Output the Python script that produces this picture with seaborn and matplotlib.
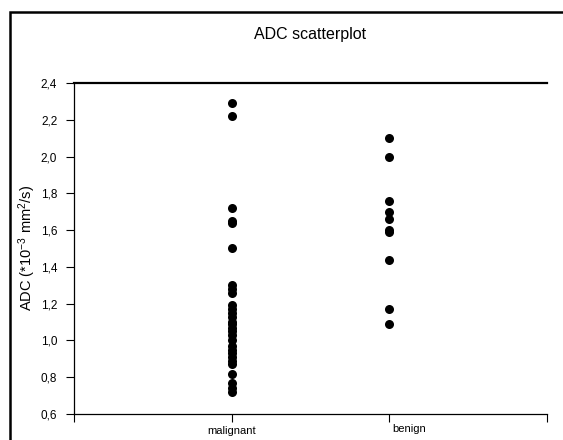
import matplotlib
matplotlib.use("Agg")
import matplotlib.pyplot as plt
import matplotlib.transforms as mtransforms
from matplotlib.patches import Rectangle
import pandas as pd
import seaborn as sns

# values (ADC, *10^-3 mm^2/s)
malignant = [2.29, 2.22, 1.72, 1.65, 1.64, 1.50,
             1.30, 1.28, 1.26, 1.19, 1.17, 1.15, 1.13, 1.10, 1.09, 1.07,
             1.05, 1.03, 1.00, 0.97, 0.95, 0.93, 0.91, 0.89, 0.87,
             0.82, 0.77, 0.74, 0.72]
benign = [2.10, 2.00, 1.76, 1.70, 1.66, 1.60, 1.59, 1.44, 1.17, 1.09]
groups = ["malignant", "benign"]
y_ticks = [0.6, 0.8, 1.0, 1.2, 1.4, 1.6, 1.8, 2.0, 2.2, 2.4]

df = pd.DataFrame({
    "group": ["malignant"] * len(malignant) + ["benign"] * len(benign),
    "adc": malignant + benign,
})

sns.set_theme(style="ticks")
plt.rcParams["font.family"] = ["Liberation Sans", "DejaVu Sans"]
plt.rcParams["mathtext.fontset"] = "custom"
plt.rcParams["mathtext.rm"] = "Liberation Sans"
plt.rcParams["mathtext.it"] = "Liberation Sans"
plt.rcParams["text.color"] = "black"
plt.rcParams["axes.labelcolor"] = "black"
plt.rcParams["xtick.color"] = "black"
plt.rcParams["ytick.color"] = "black"

fig = plt.figure(figsize=(5.63, 4.4), dpi=100)
ax = fig.add_axes([0.1314, 0.0591, 0.8402, 0.7523])

sns.stripplot(data=df, x="group", y="adc", order=groups, jitter=False,
              color="black", size=6.5, linewidth=0, ax=ax)

ax.set_xlim(-1, 2)
ax.set_ylim(0.6, 2.4)
ax.set_yticks(y_ticks)
ax.set_yticklabels([f"{v:.1f}".replace(".", ",") for v in y_ticks], fontsize=8.5)
ax.set_xticks([0, 1])
ax.set_xticklabels(groups, fontsize=8)
ax.set_xticks([-1, 2], minor=True)
ax.tick_params(axis="both", which="both", direction="out", length=6,
               width=0.8, color="black")
ax.tick_params(axis="x", pad=3)
ax.tick_params(axis="y", pad=6)

# benign label sits a bit to the right in the original
lab = ax.get_xticklabels()[1]
lab.set_transform(lab.get_transform() +
                  mtransforms.ScaledTranslation(20 / 100, 2 / 100, fig.dpi_scale_trans))

ax.set_xlabel("")
ax.set_ylabel("ADC (*10$^{-3}$ mm$^{2}$/s)", fontsize=10.5)
ax.yaxis.set_label_coords(-0.076, 0.5)
ax.set_title("ADC scatterplot", fontsize=11.5, pad=32)

for side in ["left", "bottom"]:
    ax.spines[side].set_linewidth(0.9)
    ax.spines[side].set_color("black")
ax.spines["top"].set_linewidth(1.6)
ax.spines["top"].set_color("black")
ax.spines["right"].set_visible(False)

# outer frame that runs off the right and bottom edges
frame = Rectangle((10 / 563, -0.1), 1.2, (428 / 440) + 0.1,
                  transform=fig.transFigure, fill=False,
                  edgecolor="black", linewidth=1.8)
fig.patches.append(frame)

fig.savefig("out.png", dpi=100)
